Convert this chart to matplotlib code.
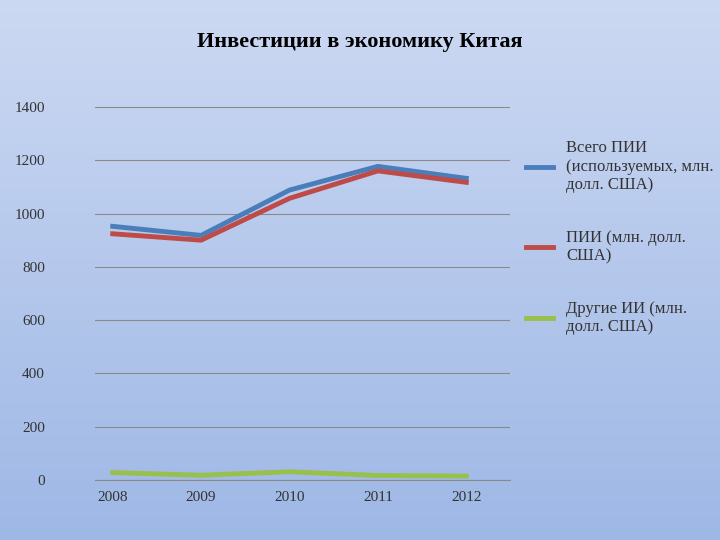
import matplotlib
matplotlib.use("Agg")
import matplotlib.pyplot as plt
import numpy as np

years = ["2008", "2009", "2010", "2011", "2012"]
total_fdi = [952, 918, 1088, 1177, 1132]
fdi = [924, 900, 1057, 1160, 1117]
other = [28, 18, 31, 17, 15]
labels = ["Всего ПИИ\n(используемых, млн.\nдолл. США)", "ПИИ (млн. долл.\nСША)", "Другие ИИ (млн.\nдолл. США)"]

plt.rcParams['font.family'] = ['Liberation Serif', 'DejaVu Serif']
fig = plt.figure(figsize=(7.2, 5.4), dpi=100)
bg = fig.add_axes([0, 0, 1, 1], zorder=-10)
grad = np.linspace(0, 1, 256).reshape(-1, 1)
top = np.array([0.80, 0.85, 0.95]); bot = np.array([0.62, 0.72, 0.90])
img = top + (bot - top) * grad[:, :, None]
bg.imshow(img, aspect='auto', extent=[0, 1, 0, 1])
bg.axis('off')

fig.text(0.5, 0.922, "Инвестиции в экономику Китая", ha='center', va='center',
         fontsize=16, fontweight='bold')

ax = fig.add_axes([0.132, 0.111, 0.577, 0.691])
ax.patch.set_alpha(0)
x = np.arange(len(years))
ax.plot(x, total_fdi, color='#4a7ebb', lw=3.5, label=labels[0])
ax.plot(x, fdi, color='#be4b48', lw=3.5, label=labels[1])
ax.plot(x, other, color='#98c04a', lw=3.5, label=labels[2])
ax.set_xlim(-0.2, 4.5)
ax.set_ylim(0, 1400)
ax.set_yticks(range(0, 1401, 200))
ax.set_xticks(x, years)
ax.grid(axis='y', color='#8a8a8a', lw=0.8)
for s in ['top', 'right', 'left']:
    ax.spines[s].set_visible(False)
ax.spines['bottom'].set_color('#8a8a8a')
ax.tick_params(axis='both', length=0, labelsize=11, colors='#333333')
ax.tick_params(axis='x', pad=8)
ax.tick_params(axis='y', pad=36)
fig.legend(loc='center left', bbox_to_anchor=(0.71, 0.56), frameon=False,
           fontsize=12, labelspacing=2.2, handlelength=1.6, labelcolor='#333333')
fig.savefig("out.png", dpi=100)
